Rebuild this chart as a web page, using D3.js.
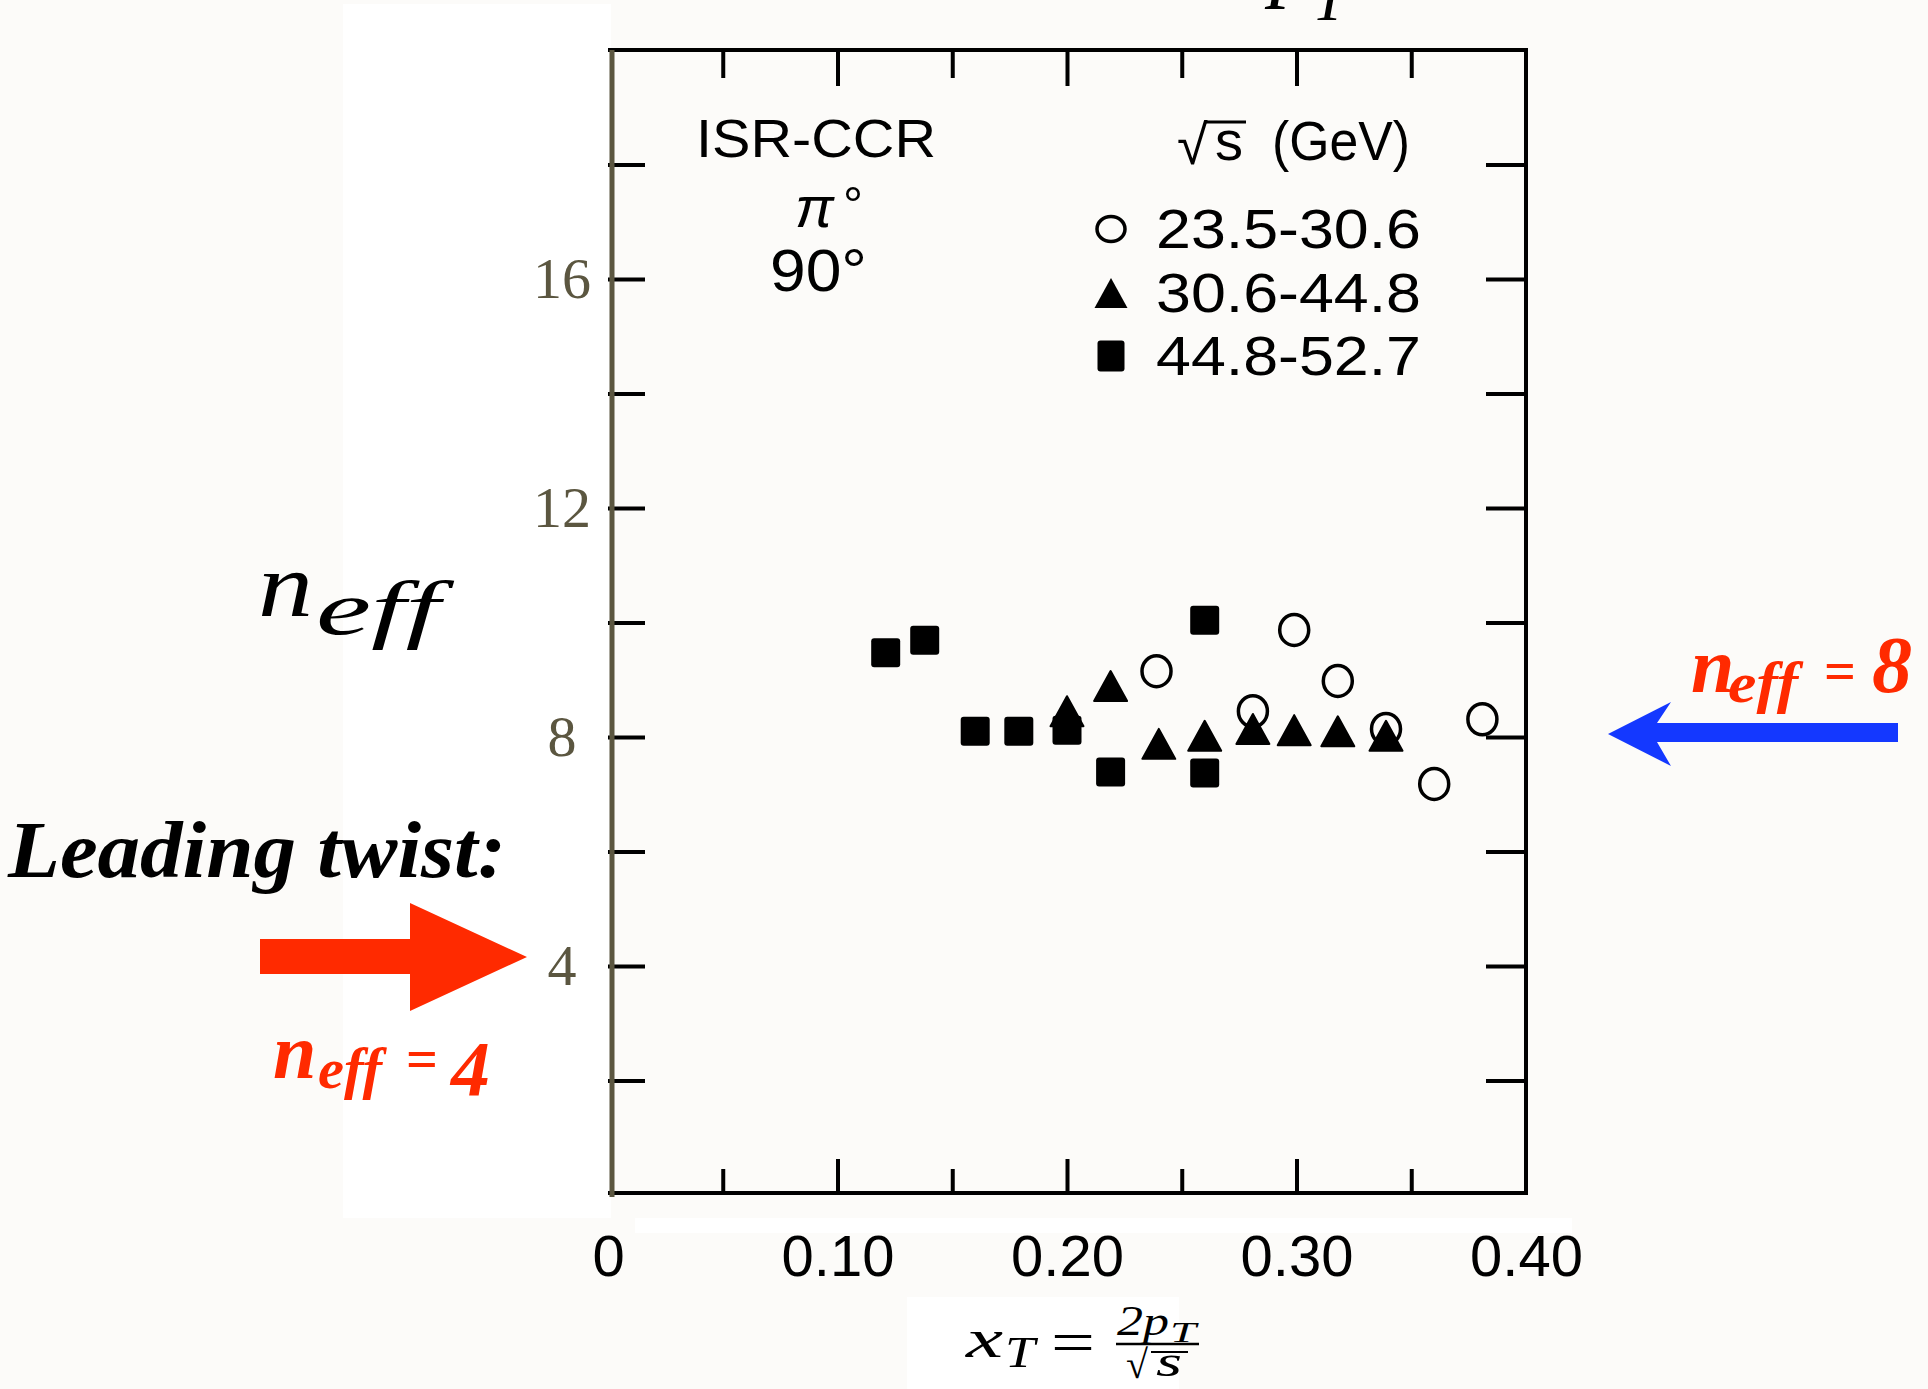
<!DOCTYPE html>
<html>
<head>
<meta charset="utf-8">
<script src="https://cdn.jsdelivr.net/npm/d3@7"></script>
<style>
  body { margin: 0; background: #fcfbf9; }
  svg { display: block; }
</style>
</head>
<body>
<script>
// values (n_eff vs x_T)
const xCircles   = [0.239, 0.281, 0.299, 0.318, 0.339, 0.360, 0.381];
const nCircles   = [9.15, 8.45, 9.87, 8.98, 8.14, 7.18, 8.31];
const xTriangles = [0.200, 0.219, 0.240, 0.260, 0.281, 0.299, 0.318, 0.339];
const nTriangles = [8.45, 8.89, 7.88, 8.02, 8.14, 8.12, 8.10, 8.02];
const xSquares   = [0.121, 0.138, 0.160, 0.179, 0.200, 0.219, 0.260, 0.260];
const nSquares   = [9.47, 9.69, 8.10, 8.10, 8.12, 7.39, 10.04, 7.37];

const xLabelTicks = [0, 0.1, 0.2, 0.3, 0.4];
const xTickLabels = ["0", "0.10", "0.20", "0.30", "0.40"];
const xMajorTicks = [0.1, 0.2, 0.3];
const xMinorTicks = [0.05, 0.15, 0.25, 0.35];
const yLabelTicks = [4, 8, 12, 16];
const yTickLabels = ["4", "8", "12", "16"];
const yAllTicks = [2, 4, 6, 8, 10, 12, 14, 16, 18];

const legendTitle = "(GeV)";
const legendLabels = ["23.5-30.6", "30.6-44.8", "44.8-52.7"];
const legendShapes = ["circle", "triangle", "square"];

const W = 1928, H = 1389;
const olive = "#5b5640";
const red = "#ff2a00";
const blue = "#1438ff";
const sans = "'Liberation Sans', Arial, sans-serif";
const serif = "'Liberation Serif', 'Times New Roman', serif";

const svg = d3.select("body").append("svg")
    .attr("width", W).attr("height", H);

const x = d3.scaleLinear().domain([0, 0.4]).range([608, 1526]);
const y = d3.scaleLinear().domain([0, 20]).range([1195, 50]);

// white panels behind the pasted scan
svg.append("rect").attr("x", 343).attr("y", 4).attr("width", 268).attr("height", 1214).attr("fill", "#fff");
svg.append("rect").attr("x", 635).attr("y", 1218).attr("width", 937).attr("height", 15).attr("fill", "#fff");
svg.append("rect").attr("x", 907).attr("y", 1297).attr("width", 272).attr("height", 92).attr("fill", "#fff");

// frame
const frame = svg.append("g").attr("stroke", "#000").attr("stroke-width", 4).attr("fill", "none");
frame.append("line").attr("x1", x(0)).attr("x2", x(0.4) + 2).attr("y1", y(20)).attr("y2", y(20));
frame.append("line").attr("x1", x(0.4)).attr("x2", x(0.4)).attr("y1", y(20)).attr("y2", y(0));
frame.append("line").attr("x1", x(0)).attr("x2", x(0.4) + 2).attr("y1", y(0) - 2).attr("y2", y(0) - 2);

// ticks, pointing inward
function ticksOnly(axis, g) {
    g.call(axis);
    g.select(".domain").remove();
    g.selectAll("line").attr("stroke", "#000").attr("stroke-width", 4);
}
ticksOnly(d3.axisTop(x).tickValues(xMajorTicks).tickSize(36).tickFormat(""),
    svg.append("g").attr("transform", `translate(0,${y(0)})`));
ticksOnly(d3.axisTop(x).tickValues(xMinorTicks).tickSize(26).tickFormat(""),
    svg.append("g").attr("transform", `translate(0,${y(0)})`));
ticksOnly(d3.axisBottom(x).tickValues(xMajorTicks).tickSize(36).tickFormat(""),
    svg.append("g").attr("transform", `translate(0,${y(20)})`));
ticksOnly(d3.axisBottom(x).tickValues(xMinorTicks).tickSize(28).tickFormat(""),
    svg.append("g").attr("transform", `translate(0,${y(20)})`));
ticksOnly(d3.axisRight(y).tickValues(yAllTicks).tickSize(37).tickFormat(""),
    svg.append("g").attr("transform", `translate(${x(0)},0)`));
ticksOnly(d3.axisLeft(y).tickValues(yAllTicks).tickSize(40).tickFormat(""),
    svg.append("g").attr("transform", `translate(${x(0.4)},0)`));

// left spine in olive
svg.append("line").attr("x1", x(0) + 4).attr("x2", x(0) + 4).attr("y1", y(20)).attr("y2", y(0) + 2)
    .attr("stroke", olive).attr("stroke-width", 5);

// x tick labels
const xAx = svg.append("g").attr("transform", `translate(0,${y(0)})`)
    .call(d3.axisBottom(x).tickValues(xLabelTicks).tickSize(0).tickPadding(40)
        .tickFormat((d, i) => xTickLabels[i]));
xAx.select(".domain").remove();
xAx.selectAll("text").style("font-family", sans).style("font-size", "58px").attr("fill", "#000");

// y tick labels
const yAx = svg.append("g").attr("transform", `translate(${x(0)},0)`)
    .call(d3.axisLeft(y).tickValues(yLabelTicks).tickSize(0)
        .tickFormat((d, i) => yTickLabels[i]));
yAx.select(".domain").remove();
yAx.selectAll("text").attr("x", -46).attr("text-anchor", "middle")
    .style("font-family", serif).style("font-size", "58px").attr("fill", olive);

// markers
const tri = "M0,-15L16.5,15L-16.5,15Z";
svg.append("g").selectAll("rect").data(xSquares).join("rect")
    .attr("x", (d, i) => x(d) - 14.5).attr("y", (d, i) => y(nSquares[i]) - 14.5)
    .attr("width", 29).attr("height", 29).attr("rx", 3).attr("fill", "#000");
svg.append("g").selectAll("path").data(xTriangles).join("path")
    .attr("transform", (d, i) => `translate(${x(d)},${y(nTriangles[i])})`)
    .attr("d", tri).attr("fill", "#000").attr("stroke", "#000").attr("stroke-width", 2).attr("stroke-linejoin", "round");
svg.append("g").selectAll("ellipse").data(xCircles).join("ellipse")
    .attr("cx", d => x(d)).attr("cy", (d, i) => y(nCircles[i]))
    .attr("rx", 14.5).attr("ry", 15.5)
    .attr("fill", "none").attr("stroke", "#000").attr("stroke-width", 3.5);

// legend / panel text
const txt = (s, px, py, size, opts = {}) => svg.append("text")
    .attr("x", px).attr("y", py).text(s)
    .style("font-family", opts.family || sans).style("font-size", size + "px")
    .style("font-style", opts.italic ? "italic" : "normal")
    .style("font-weight", opts.bold ? "bold" : "normal")
    .attr("fill", opts.fill || "#000")
    .attr("text-anchor", opts.anchor || "start");
const fit = (t, len) => t.attr("textLength", len).attr("lengthAdjust", "spacingAndGlyphs");

fit(txt("ISR-CCR", 696, 157, 54), 240);
txt("π", 795, 227, 58, {italic: true});
txt("°", 843, 222, 50);
fit(txt("90°", 770, 291, 60), 97);

txt("√", 1177, 164, 56);
svg.append("line").attr("x1", 1206).attr("x2", 1246).attr("y1", 122).attr("y2", 122)
    .attr("stroke", "#000").attr("stroke-width", 3);
txt("s", 1215, 160, 56);
fit(txt(legendTitle, 1272, 160, 56), 138);

const legendY = [248, 312, 375];
legendLabels.forEach((lab, i) => {
    fit(txt(lab, 1156, legendY[i], 56), 265);
    const cy = legendY[i] - 19, cx = 1111;
    if (legendShapes[i] === "circle") {
        svg.append("ellipse").attr("cx", cx).attr("cy", cy).attr("rx", 14).attr("ry", 12.5)
            .attr("fill", "none").attr("stroke", "#000").attr("stroke-width", 3.5);
    } else if (legendShapes[i] === "triangle") {
        svg.append("path").attr("transform", `translate(${cx},${cy})`).attr("d", tri).attr("fill", "#000");
    } else {
        svg.append("rect").attr("x", cx - 13.5).attr("y", cy - 15.5).attr("width", 27).attr("height", 31)
            .attr("rx", 3).attr("fill", "#000");
    }
});

// axis titles
fit(txt("n", 258, 616, 92, {family: serif, italic: true}), 55);
fit(txt("eff", 316, 634, 76, {family: serif, italic: true}), 124);

fit(txt("x", 966, 1357, 54, {family: serif, italic: true}), 37);
fit(txt("T", 1005, 1367, 44, {family: serif, italic: true}), 30);
fit(txt("=", 1051, 1362, 60, {family: serif}), 44);
fit(txt("2p", 1117, 1335, 42, {family: serif, italic: true}), 52);
fit(txt("T", 1170, 1342, 30, {family: serif, italic: true}), 26);
svg.append("line").attr("x1", 1116).attr("x2", 1199).attr("y1", 1344).attr("y2", 1344)
    .attr("stroke", "#000").attr("stroke-width", 2.5);
txt("√", 1126, 1378, 40, {family: serif});
svg.append("line").attr("x1", 1151).attr("x2", 1188).attr("y1", 1352).attr("y2", 1352)
    .attr("stroke", "#000").attr("stroke-width", 2);
fit(txt("s", 1156, 1376, 44, {family: serif, italic: true}), 26);

// clipped p_T at the very top
txt("p", 1270, -10, 90, {family: serif, italic: true});
txt("T", 1312, 20, 62, {family: serif, italic: true});

// annotations
fit(txt("Leading twist:", 8, 877, 80, {family: serif, italic: true, bold: true}), 498);

svg.append("path")
    .attr("d", "M260,939L410,939L410,903L527,957L410,1011L410,974L260,974Z")
    .attr("fill", red);

txt("n", 273, 1078, 78, {family: serif, italic: true, bold: true, fill: red});
fit(txt("eff", 318, 1088, 56, {family: serif, italic: true, bold: true, fill: red}), 64);
txt("=", 406, 1078, 56, {family: serif, bold: true, fill: red});
txt("4", 451, 1095, 78, {family: serif, italic: true, bold: true, fill: red});

txt("n", 1691, 692, 78, {family: serif, italic: true, bold: true, fill: red});
fit(txt("eff", 1728, 702, 56, {family: serif, italic: true, bold: true, fill: red}), 70);
txt("=", 1824, 690, 56, {family: serif, bold: true, fill: red});
txt("8", 1872, 692, 80, {family: serif, italic: true, bold: true, fill: red});

svg.append("path")
    .attr("d", "M1608,734L1671,702L1657,723L1898,723L1898,742L1657,742L1671,766Z")
    .attr("fill", blue);
</script>
</body>
</html>
